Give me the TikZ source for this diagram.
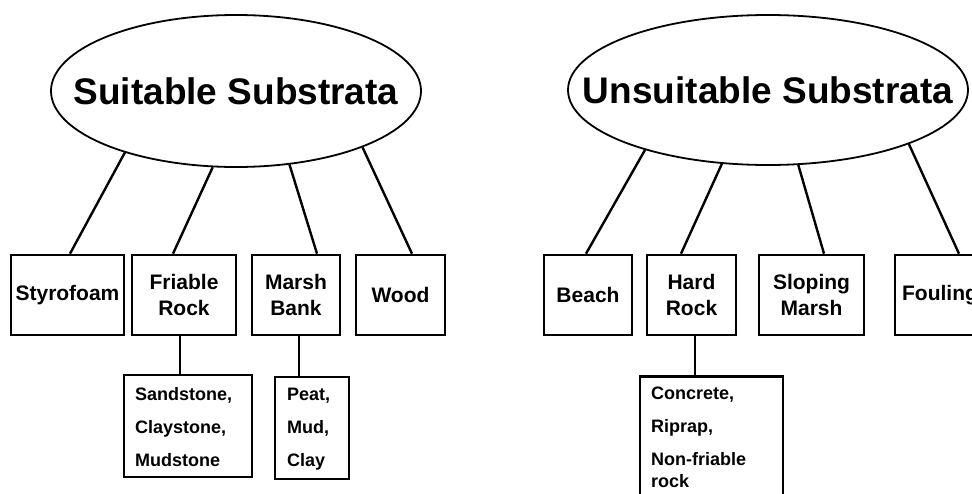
\documentclass[tikz,border=0pt]{standalone}
\usepackage{fontspec}
\setmainfont{Liberation Sans}
\usetikzlibrary{shapes.geometric,calc}
\begin{document}
\begin{tikzpicture}[x=1pt,y=-1pt,
  oval/.style={draw,ellipse,line width=1.8pt,inner sep=0pt},
  ovaltext/.style={inner sep=0pt,font=\fontsize{37}{42}\selectfont\bfseries},
  catbox/.style={draw,rectangle,line width=2.6pt,inner sep=0pt,minimum height=80pt,align=center,font=\fontsize{21}{26}\selectfont\bfseries},
  subbox/.style={draw,rectangle,line width=2.6pt,inner sep=0pt,minimum height=102pt},
  subtext/.style={align=left,inner sep=0pt,font=\fontsize{18}{33}\selectfont\bfseries},
  link/.style={line width=2.4pt}]
\useasboundingbox (0,0) rectangle (972,493);
\clip (0,0) rectangle (972,493);
% left tree
\node[oval,minimum width=370pt,minimum height=152pt] (suit) at (236,91) {};
\node[ovaltext] (suittext) at (suit.center) {Suitable Substrata};
\node[catbox,minimum width=113pt] (sty) at (67.5,295) {Styrofoam};
\node[catbox,minimum width=104pt] (fri) at (184,295) {Friable\\Rock};
\node[catbox,minimum width=88pt] (mar) at (296,295) {Marsh\\Bank};
\node[catbox,minimum width=89pt] (woo) at (400.5,295) {Wood};
\node[subbox,minimum width=128pt] (san) at (188,426) {};
\node[subtext,anchor=west] (santext) at (135,427) {Sandstone,\\Claystone,\\Mudstone};
\node[subbox,minimum width=74pt] (pea) at (312,428) {};
\node[subtext,anchor=west] (peatext) at (287,429) {Peat,\\Mud,\\Clay};
\draw[link] (suit.209) -- ([xshift=2.5pt]sty.north);
\draw[link] (suit.253) -- ([xshift=-11pt]fri.north);
\draw[link] (suit.306) -- ([xshift=21pt]mar.north);
\draw[link] (suit.336) -- ([xshift=11.5pt]woo.north);
\draw[link] ([xshift=-4pt]fri.south) -- ([xshift=-4pt]fri.south |- san.north);
\draw[link] ([xshift=3pt]mar.south) -- ([xshift=3pt]mar.south |- pea.north);
% right tree
\node[oval,minimum width=400pt,minimum height=150pt] (uns) at (768,90) {};
\node[ovaltext] (unstext) at (uns.center) {Unsuitable Substrata};
\node[catbox,minimum width=88pt] (bea) at (588,295) {Beach};
\node[catbox,minimum width=89pt] (har) at (691.5,295) {Hard\\Rock};
\node[catbox,minimum width=105pt] (slo) at (811.5,295) {Sloping\\Marsh};
\node[catbox,minimum width=90pt] (fou) at (940,295) {Fouling};
\node[subbox,minimum width=143pt,minimum height=140pt,anchor=north] (con) at (711.5,375) {};
\node[subtext,anchor=north west] (context) at (651,387) {Concrete,\\Riprap,\\Non-friable\\[-11pt]rock};
\draw[link] (uns.206) -- ([xshift=-2pt]bea.north);
\draw[link] (uns.238) -- ([xshift=-10.5pt]har.north);
\draw[link] (uns.292) -- ([xshift=12.5pt]slo.north);
\draw[link] (uns.339) -- ([xshift=19pt]fou.north);
\draw[link] ([xshift=3.5pt]har.south) -- ([xshift=3.5pt]har.south |- con.north);
\end{tikzpicture}
\end{document}
